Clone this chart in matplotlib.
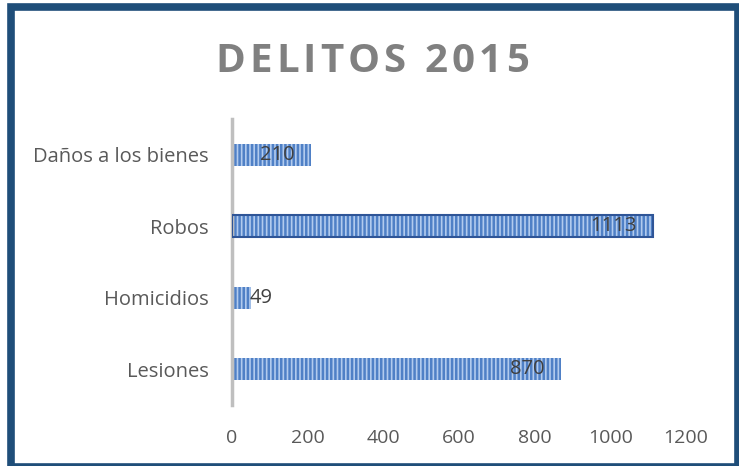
import matplotlib.pyplot as plt
from matplotlib.patches import Rectangle

# --- data ---
categories = ["Lesiones", "Homicidios", "Robos", "Daños a los bienes"]
values = [870, 49, 1113, 210]
x_ticks = [0, 200, 400, 600, 800, 1000, 1200]
title = "DELITOS 2015"

plt.rcParams['font.family'] = ['Open Sans', 'DejaVu Sans']
plt.rcParams['hatch.linewidth'] = 1.8
plt.rcParams['hatch.color'] = '#4f80c6'

W, H = 739, 466
fig = plt.figure(figsize=(W / 100, H / 100), dpi=100)

# dark blue frame; right and bottom sides run off the picture edge
frame = Rectangle((11 / W, -1 / H), 727 / W, 460 / H,
                  transform=fig.transFigure, fill=False, joinstyle='miter',
                  edgecolor='#1f4e79', linewidth=5.5, zorder=10)
fig.patches.append(frame)

ax = fig.add_axes([232 / W, 1 - 405 / H, 454 / W, 286 / H])

ypos = range(len(categories))
bars = ax.barh(ypos, values, height=0.31, color='#b2cbee',
               hatch='||||', linewidth=0)
# the Robos bar has a dark outline in the original
rb = bars[2]
ax.add_patch(Rectangle(rb.get_xy(), rb.get_width(), rb.get_height(),
                       fill=False, edgecolor='#2f5597', linewidth=1.5, zorder=3))

for b, v in zip(bars, values):
    y = b.get_y() + b.get_height() / 2
    if v < 100:
        ax.annotate(str(v), (v, y), xytext=(-1, 0), textcoords='offset points',
                    ha='left', va='center', fontsize=14.5, color='#404040')
    else:
        ax.annotate(str(v), (v, y), xytext=(-12, 0), textcoords='offset points',
                    ha='right', va='center', fontsize=14.5, color='#404040')

ax.set_xlim(0, 1200)
ax.set_ylim(-0.5, len(categories) - 0.5)
ax.set_xticks(x_ticks)
ax.set_yticks(list(ypos))
ax.set_yticklabels(categories)
ax.tick_params(axis='x', length=0, pad=17, labelsize=14, labelcolor='#595959')
ax.tick_params(axis='y', length=0, pad=17, labelsize=14.5, labelcolor='#595959')
for s in ['top', 'right', 'bottom']:
    ax.spines[s].set_visible(False)
ax.spines['left'].set_color('#bfbfbf')
ax.spines['left'].set_linewidth(2.5)

# spaced-out bold title, one character at a time
fig.canvas.draw()
r = fig.canvas.get_renderer()
spacing = 4  # px between letters
pieces = []
for ch in title:
    t = fig.text(0, 0, ch, fontsize=29, fontweight='bold', color='#808080',
                 va='baseline', ha='left')
    w = t.get_window_extent(r).width if ch != ' ' else 11
    pieces.append((t, w))
total = sum(w for _, w in pieces) + spacing * (len(pieces) - 1)
x = 372 - total / 2
for t, w in pieces:
    t.set_position((x / W, 1 - 72 / H))
    x += w + spacing

fig.savefig("out.png", dpi=100)
